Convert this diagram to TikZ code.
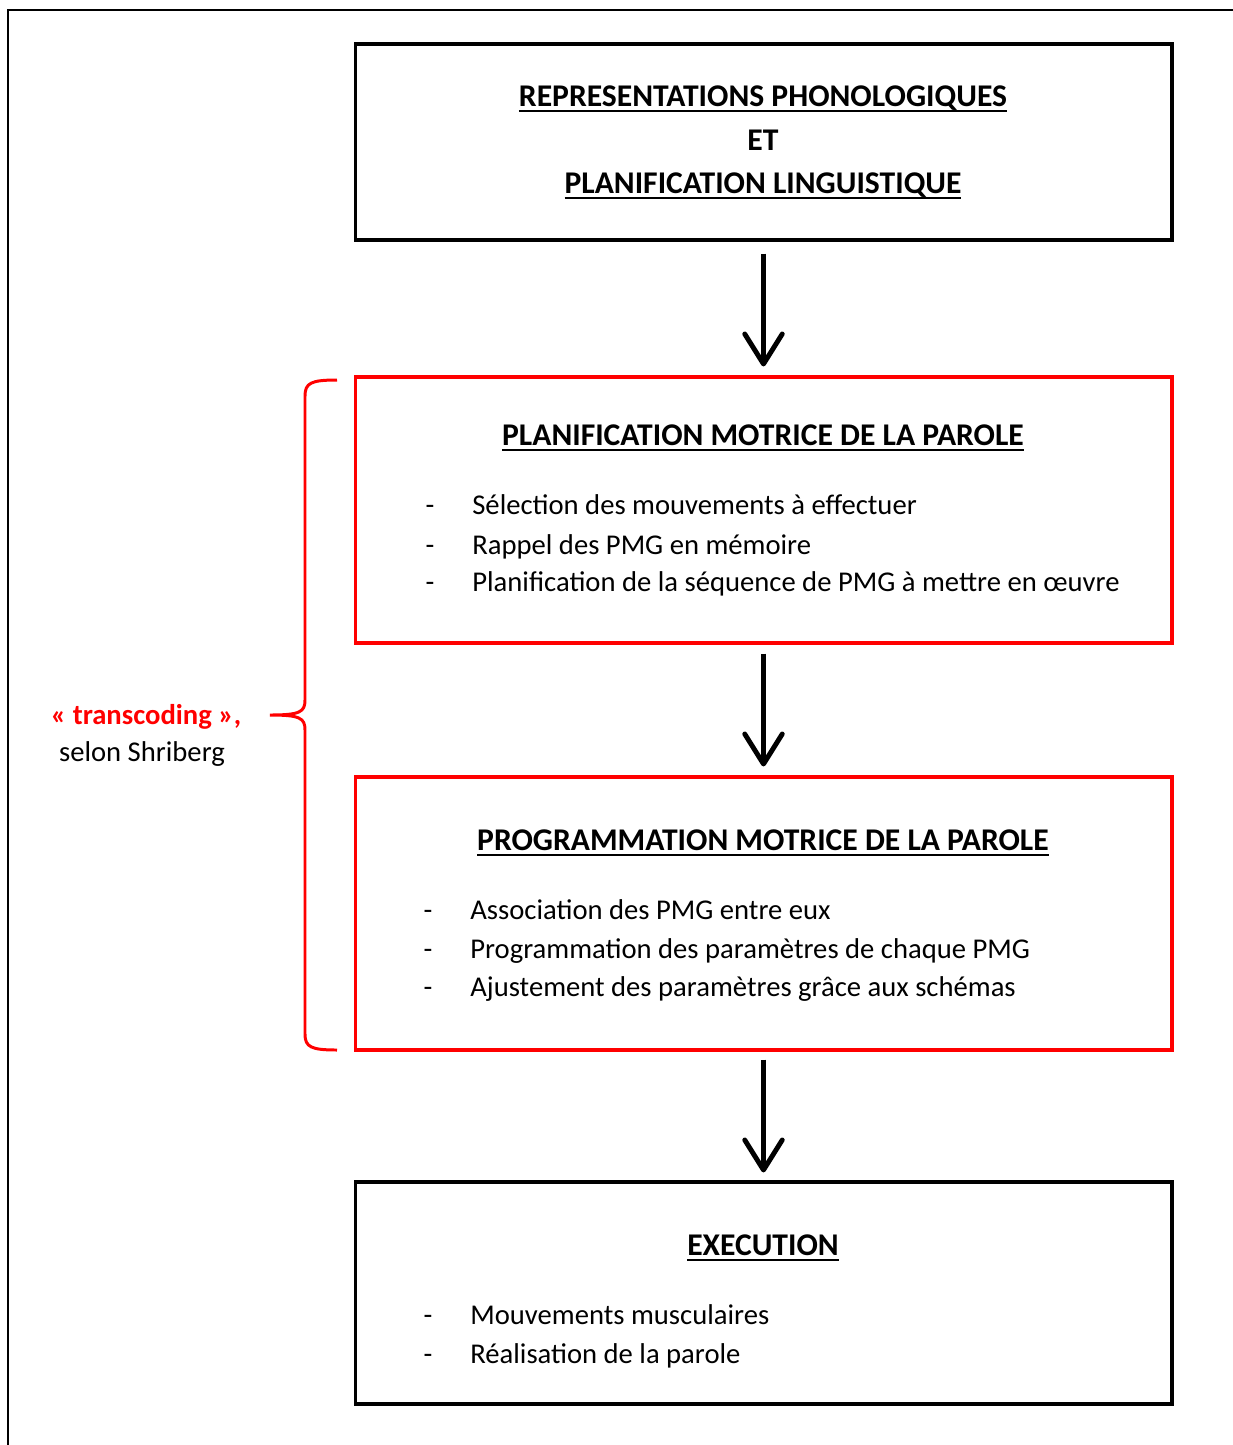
\documentclass[tikz,border=0pt]{standalone}
\usepackage{fontspec}
\setmainfont{Carlito}
\usepackage{tikz}
\usetikzlibrary{arrows.meta,positioning}
\definecolor{framered}{HTML}{FF0000}
\newcommand{\souligne}[1]{\setbox0\hbox{#1}\rlap{\rule[-3.5pt]{\wd0}{1.1pt}}\box0}

\begin{document}
\begin{tikzpicture}[
    x=0.02cm, y=-0.02cm,
    every node/.style={font=\fontsize{16.3}{19}\selectfont},
    stagebox/.style={
        rectangle,
        draw,
        line width=1.8pt,
        minimum width=16.34cm,
        inner sep=0pt
    },
    titre/.style={font=\fontsize{18}{21}\selectfont\bfseries, anchor=mid},
    item/.style={anchor=mid west, inner sep=0pt},
    tiret/.style={anchor=mid},
    arrow/.style={-{Straight Barb[length=6mm,width=7.5mm,round]}, line width=2.8pt}
]
    \useasboundingbox (0,0) rectangle (1232,1445);

    % Frame
    \draw[line width=1.1pt] (8,1460) -- (8,10) -- (1250,10);

    % === STAGE BOXES ===

    % Phonologie
    \node[stagebox, minimum height=3.92cm] (phono) at (763.5,142) {};
    \node[titre] (phonoA) at (763,102) {\souligne{REPRESENTATIONS PHONOLOGIQUES}};
    \node[titre] (phonoB) at (763,146) {ET};
    \node[titre] (phonoC) at (763,189) {\souligne{PLANIFICATION LINGUISTIQUE}};

    % Planification motrice
    \node[stagebox, draw=framered, minimum height=5.32cm] (planif) at (763.5,510) {};
    \node[titre] (planifT) at (763,441) {\souligne{PLANIFICATION MOTRICE DE LA PAROLE}};
    \node[tiret] (planifD1) at (430,510) {-};
    \node[item] (planif1) at (472,510) {Sélection des mouvements à effectuer};
    \node[tiret] (planifD2) at (430,550) {-};
    \node[item] (planif2) at (472,550) {Rappel des PMG en mémoire};
    \node[tiret] (planifD3) at (430,587) {-};
    \node[item] (planif3) at (472,587) {Planification de la séquence de PMG à mettre en œuvre};

    % Programmation motrice
    \node[stagebox, draw=framered, minimum height=5.46cm] (prog) at (763.5,913.5) {};
    \node[titre] (progT) at (763,846) {\souligne{PROGRAMMATION MOTRICE DE LA PAROLE}};
    \node[tiret] (progD1) at (428,915) {-};
    \node[item] (prog1) at (470,915) {Association des PMG entre eux};
    \node[tiret] (progD2) at (428,954) {-};
    \node[item] (prog2) at (470,954) {Programmation des paramètres de chaque PMG};
    \node[tiret] (progD3) at (428,992) {-};
    \node[item] (prog3) at (470,992) {Ajustement des paramètres grâce aux schémas};

    % Execution
    \node[stagebox, minimum height=4.44cm] (exec) at (763.5,1293) {};
    \node[titre] (execT) at (763,1251) {\souligne{EXECUTION}};
    \node[tiret] (execD1) at (428,1320) {-};
    \node[item] (exec1) at (470,1320) {Mouvements musculaires};
    \node[tiret] (execD2) at (428,1359) {-};
    \node[item] (exec2) at (470,1359) {Réalisation de la parole};

    % === ARROWS ===
    \draw[arrow, shorten <=0.24cm, shorten >=0.18cm] (phono) -- (planif);
    \draw[arrow, shorten <=0.18cm, shorten >=0.18cm] (planif) -- (prog);
    \draw[arrow, shorten <=0.16cm, shorten >=0.16cm] (prog) -- (exec);

    % === BRACE: transcoding ===
    \draw[framered, line width=1.7pt]
        (337,380) .. controls (311,380) and (305,383) .. (305,396) -- (305,700)
        .. controls (305,712) and (300,715) .. (270,715)
        .. controls (300,715) and (305,718) .. (305,730) -- (305,1034)
        .. controls (305,1047) and (311,1050) .. (337,1050);
    \node[font=\fontsize{16.3}{19}\selectfont\bfseries, text=framered] (transc) at (146,717) {« transcoding »,};
    \node (selon) at (142,754) {selon Shriberg};
\end{tikzpicture}
\end{document}
